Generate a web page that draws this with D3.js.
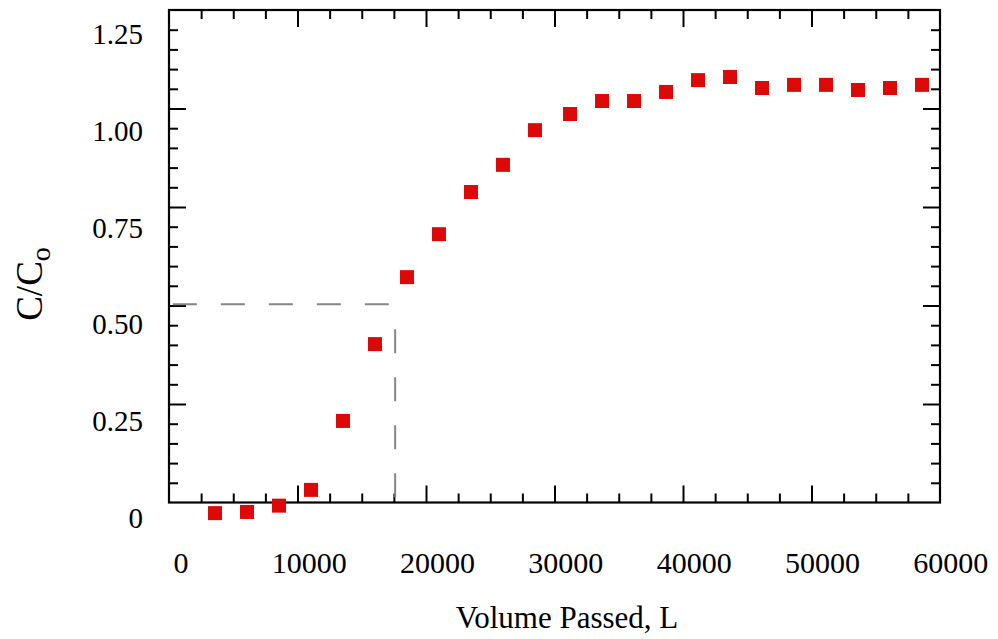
<!DOCTYPE html>
<html>
<head>
<meta charset="utf-8">
<script src="https://cdn.jsdelivr.net/npm/d3@7"></script>
<style>
  html, body { margin: 0; padding: 0; background: #fff; }
  svg { display: block; }
  text { font-family: "Liberation Serif", "Times New Roman", serif; fill: #000; }
</style>
</head>
<body>
<svg id="chart" width="998" height="639"></svg>
<script>
// ---- data ----
const volumePassed = [3580, 6070, 8560, 11050, 13540, 16030, 18520, 21010, 23500, 25990, 28480,
                      31210, 33700, 36190, 38680, 41170, 43660, 46150, 48640, 51130, 53620, 56110, 58600];
const cOverC0 = [-0.027, -0.024, -0.008, 0.032, 0.207, 0.402, 0.572, 0.681, 0.788, 0.857, 0.945,
                 0.986, 1.019, 1.019, 1.042, 1.072, 1.080, 1.052, 1.060, 1.060, 1.047, 1.052, 1.060];
const xTickLabels = [0, 10000, 20000, 30000, 40000, 50000, 60000];
const yTickLabels = [0, 0.25, 0.5, 0.75, 1.0, 1.25];
const yTickText = ["0", "0.25", "0.50", "0.75", "1.00", "1.25"];
// reference (breakthrough) guide lines
const guideH = {x0: 300, x1: 17100, y: 0.503};
const guideV = {x: 17600, y0: 0.44, y1: 0.013};

// ---- layout ----
const svg = d3.select("#chart");
const pL = 169, pR = 940, pT = 10, pB = 502.5;
const x = d3.scaleLinear().domain([0, 60000]).range([pL, pR]);
const y = d3.scaleLinear().domain([0, 1.25]).range([pB, pT]);
// tick-label placement scales (labels in reference are offset from ticks)
const xLab = d3.scaleLinear().domain([0, 60000]).range([181, 950.7]);
const yLab = d3.scaleLinear().domain([0, 1.25]).range([527.6, 44.2]);

const minorLen = 9, majorLen = 17;
const xMinor = d3.range(2500, 60000, 2500).filter(v => v % 10000 !== 0);
const xMajor = d3.range(10000, 60000, 10000);
const yMinor = d3.range(1, 25).map(i => i * 0.05).filter((v, i) => (i + 1) % 5 !== 0);
const yMajor = [0.25, 0.5, 0.75, 1.0];

function styleAxis(g) {
  g.select(".domain").remove();
  g.selectAll("text").remove();
  g.selectAll(".tick line").attr("stroke", "#000").attr("stroke-width", 2);
}
[[xMinor, minorLen], [xMajor, majorLen]].forEach(([vals, len]) => {
  svg.append("g").attr("transform", `translate(0,${pB})`)
    .call(d3.axisBottom(x).tickValues(vals).tickSize(-len)).call(styleAxis);
  svg.append("g").attr("transform", `translate(0,${pT})`)
    .call(d3.axisTop(x).tickValues(vals).tickSize(-len)).call(styleAxis);
});
[[yMinor, minorLen], [yMajor, majorLen]].forEach(([vals, len]) => {
  svg.append("g").attr("transform", `translate(${pL},0)`)
    .call(d3.axisLeft(y).tickValues(vals).tickSize(-len)).call(styleAxis);
  svg.append("g").attr("transform", `translate(${pR},0)`)
    .call(d3.axisRight(y).tickValues(vals).tickSize(-len)).call(styleAxis);
});

// frame
svg.append("rect")
  .attr("x", pL).attr("y", pT)
  .attr("width", pR - pL).attr("height", pB - pT)
  .attr("fill", "none").attr("stroke", "#000").attr("stroke-width", 2.2);

// tick labels
svg.append("g").selectAll("text").data(xTickLabels).join("text")
  .attr("x", d => xLab(d)).attr("y", 573)
  .attr("text-anchor", "middle").attr("font-size", 30)
  .text(d => d);
svg.append("g").selectAll("text").data(yTickLabels).join("text")
  .attr("x", 143).attr("y", d => yLab(d))
  .attr("text-anchor", "end").attr("font-size", 29)
  .text((d, i) => yTickText[i]);

// axis titles
svg.append("text")
  .attr("x", 567).attr("y", 628)
  .attr("text-anchor", "middle").attr("font-size", 31)
  .text("Volume Passed, L");
const yt = svg.append("text")
  .attr("transform", "translate(42,284) rotate(-90)")
  .attr("text-anchor", "middle").attr("font-size", 37);
yt.append("tspan").text("C/C");
yt.append("tspan").attr("font-size", 28).attr("dy", 8).text("o");

// guide lines
svg.append("line")
  .attr("x1", x(guideH.x0)).attr("x2", x(guideH.x1))
  .attr("y1", y(guideH.y)).attr("y2", y(guideH.y))
  .attr("stroke", "#858585").attr("stroke-width", 2).attr("stroke-dasharray", "24,24");
svg.append("line")
  .attr("x1", x(guideV.x)).attr("x2", x(guideV.x))
  .attr("y1", y(guideV.y0)).attr("y2", y(guideV.y1))
  .attr("stroke", "#858585").attr("stroke-width", 2).attr("stroke-dasharray", "24,24");

// points
const pts = volumePassed.map((v, i) => ({v, c: cOverC0[i]}));
const s = 14;
svg.append("g").selectAll("rect").data(pts).join("rect")
  .attr("x", d => x(d.v) - s / 2).attr("y", d => y(d.c) - s / 2)
  .attr("width", s).attr("height", s)
  .attr("fill", "#dd0808");
</script>
</body>
</html>
